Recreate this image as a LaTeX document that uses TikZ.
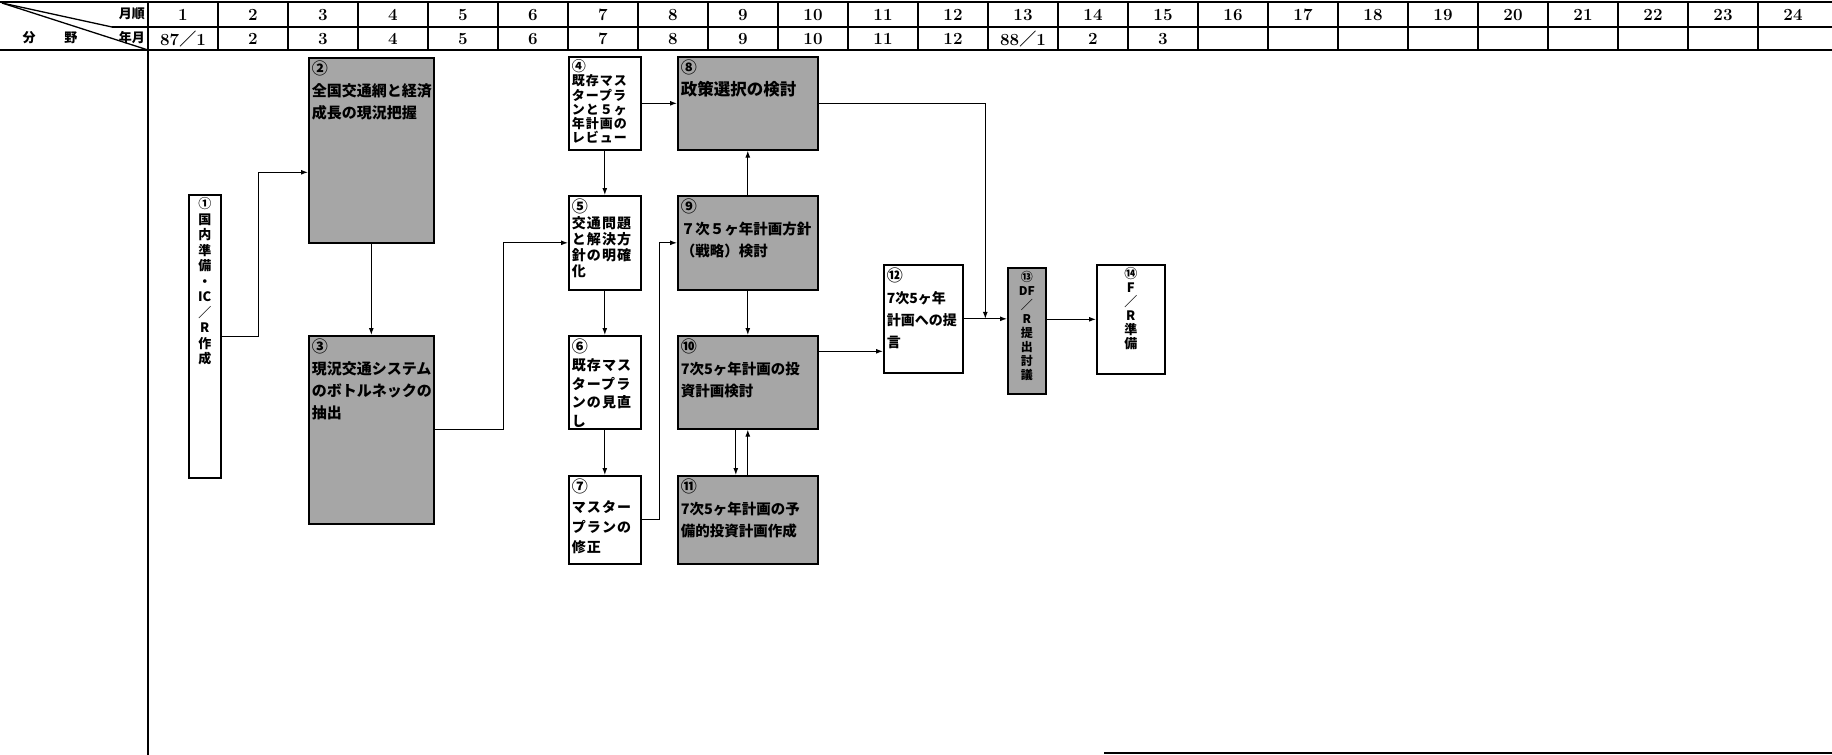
\documentclass[tikz,border=0pt]{standalone}
\usepackage{fontspec}
\newfontfamily\jp{Noto Sans CJK JP}
\newfontfamily\jpw{Noto Sans CJK JP}[LetterSpace=8]
\usetikzlibrary{arrows.meta,calc}

\newcommand{\stagetext}[4][22pt]{%
  \parbox[c][\dimexpr#3pt-6pt\relax][t]{\dimexpr#2pt-6pt\relax}{\baselineskip=#1\relax#4}}
\newcommand{\stageno}[1]{{\fontsize{16}{16}\selectfont#1}}

\begin{document}
\begin{tikzpicture}[x=1pt,y=-1pt,>=Latex,
  grid/.style={line width=1.3pt},
  num/.style={font=\bfseries\fontsize{17}{17}\selectfont},
  hdr/.style={font=\jp\bfseries\fontsize{13}{13}\selectfont, inner sep=1pt},
  stage/.style={draw, line width=1.6pt, fill=white, anchor=north west, inner sep=3pt,
    font=\jpw\bfseries\fontsize{14}{16}\selectfont},
  shaded/.style={stage, fill=black!35, font=\jp\bfseries\fontsize{15}{17}\selectfont},
  link/.style={line width=1.1pt, -{Latex[length=7pt,width=5pt]}}]
  \def\cw{70}
  \useasboundingbox (0,0) rectangle (1832,755);
  % header
  \draw[grid] (0,2) -- (1832,2);
  \draw[grid] (112,27) -- (1832,27);
  \draw[grid] (0,50) -- (1832,50);
  \draw[grid] (2,3) -- (112,27);
  \draw[grid] (2,3) -- (148,50);
  \foreach \k in {0,...,23}
    \draw[grid] (148+\cw*\k,2) -- (148+\cw*\k,50);
  \draw[grid] (148,2) -- (148,755);
  \draw[grid] (1104,753) -- (1832,753);
  \node[hdr, anchor=east] (lblm) at (146,14) {月順};
  \node[hdr, anchor=east] (lbly) at (146,38) {年月};
  \node[hdr] (lblf) at (50,38) {分\hspace{2.2em}野};
  \foreach \k in {1,...,24}
    \node[num] (m\k) at (148+\cw*\k-\cw/2,15) {\k};
  \foreach \m [count=\k] in {{87{\jp ／}1},2,3,4,5,6,7,8,9,10,11,12,{88{\jp ／}1},2,3}
    \node[num] (y\k) at (148+\cw*\k-\cw/2,39) {\m};
  % stages
  \node[stage, font=\jp\bfseries\fontsize{13}{15}\selectfont] (n1) at (188,194)
    {\stagetext[15.5pt]{32}{283}{\centering ①\\国\\内\\準\\備\\・\\IC\\／\\R\\作\\成}};
  \node[shaded] (n2) at (308,57) {\stagetext{125}{185}{\stageno{②}\\全国交通網と経済\\成長の現況把握}};
  \node[shaded] (n3) at (308,335) {\stagetext{125}{188}{\stageno{③}\\現況交通システム\\のボトルネックの\\抽出}};
  \node[stage, font=\jpw\bfseries\fontsize{13}{15}\selectfont] (n4) at (568,56)
    {\stagetext[14.2pt]{72}{93}{{\fontsize{14}{14}\selectfont④}\\既存マス\\タープラ\\ンと５ヶ\\年計画の\\レビュー}};
  \node[stage] (n5) at (568,195) {\stagetext[16pt]{72}{94}{\stageno{⑤}\\交通問題\\と解決方\\針の明確\\化}};
  \node[stage] (n6) at (568,335) {\stagetext[18.5pt]{72}{93}{\stageno{⑥}\\既存マス\\タープラ\\ンの見直\\し}};
  \node[stage] (n7) at (568,475) {\stagetext[20pt]{72}{88}{\stageno{⑦}\\マスター\\プランの\\修正}};
  \node[shaded, font=\jp\bfseries\fontsize{16.5}{18}\selectfont] (n8) at (677,56)
    {\stagetext{140}{93}{\stageno{⑧}\\政策選択の検討}};
  \node[shaded, font=\jp\bfseries\fontsize{14.5}{17}\selectfont] (n9) at (677,195)
    {\stagetext{140}{94}{\stageno{⑨}\\７次５ヶ年計画方針\\（戦略）検討}};
  \node[shaded, font=\jp\bfseries\fontsize{14.5}{17}\selectfont] (n10) at (677,335)
    {\stagetext{140}{93}{\stageno{⑩}\\7次5ヶ年計画の投\\資計画検討}};
  \node[shaded, font=\jp\bfseries\fontsize{14.5}{17}\selectfont] (n11) at (677,475)
    {\stagetext{140}{88}{\stageno{⑪}\\7次5ヶ年計画の予\\備的投資計画作成}};
  \node[stage, font=\jp\bfseries\fontsize{14}{16}\selectfont] (n12) at (883,264)
    {\stagetext{79}{108}{\stageno{⑫}\\7次5ヶ年\\計画への提\\言}};
  \node[shaded, font=\jp\bfseries\fontsize{12}{14}\selectfont] (n13) at (1007,267)
    {\stagetext[14pt]{38}{126}{\centering ⑬\\DF\\／\\R\\提\\出\\討\\議}};
  \node[stage, font=\jp\bfseries\fontsize{13}{14}\selectfont] (n14) at (1096,264)
    {\stagetext[14pt]{68}{109}{\centering ⑭\\F\\／\\R\\準\\備}};
  % links
  \draw[link] (n1.east) -- ++(37,0) |- ([yshift=-22pt]n2.west);
  \draw[link] (n2) -- (n3);
  \draw[link] (n3.east) -- ++(69,0) |- (n5.west);
  \draw[link] (n4) -- (n8);
  \draw[link] (n4) -- (n5);
  \draw[link] (n5) -- (n6);
  \draw[link] (n6) -- (n7);
  \draw[link] (n7.east) -- ++(18,0) |- (n9.west);
  \draw[link] (n9) -- (n8);
  \draw[link] (n9) -- (n10);
  \draw[link] ([xshift=-12pt]n10.south) -- ([xshift=-12pt]n11.north);
  \draw[link] (n11.north) -- (n10.south);
  \draw[link] ([yshift=31pt]n10.east) -- ([yshift=31pt]n10.east -| n12.west);
  \coordinate (merge) at ($(n12.east)!0.5!(n12.east -| n13.west)$);
  \draw[link] (n12.east) -- (n12.east -| n13.west);
  \draw[link] (n8.east) -| (merge);
  \draw[link] (n13.east |- n14.west) -- (n14.west);
\end{tikzpicture}
\end{document}
